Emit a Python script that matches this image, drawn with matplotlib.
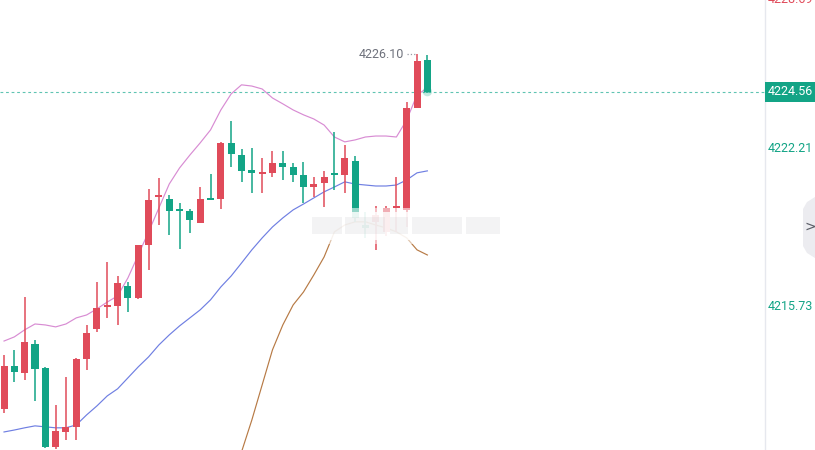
"""Candlestick chart with bands, price scale on the right."""
import matplotlib
matplotlib.use('Agg')
import matplotlib.pyplot as plt
from matplotlib.patches import Polygon, Rectangle
import numpy as np

# OHLC per bar (oldest first)
opens = [4211.55, 4213.31, 4213.02, 4214.21, 4213.23, 4209.99, 4210.60, 4210.81, 4213.60, 4214.83,
         4215.73, 4215.77, 4216.59, 4216.10, 4218.27, 4220.24, 4220.16, 4219.75, 4219.67, 4219.18,
         4220.20, 4220.16, 4222.46, 4221.96, 4221.35, 4221.18, 4221.23, 4221.64, 4221.47, 4221.14,
         4220.65, 4220.82, 4221.23, 4221.14, 4221.72, 4219.09, 4219.22, 4218.81, 4219.79, 4219.71,
         4223.89, 4225.86]
highs = [4213.76, 4213.97, 4216.14, 4214.38, 4213.25, 4211.71, 4212.86, 4213.62, 4214.99, 4216.76,
         4217.58, 4217.00, 4216.76, 4218.29, 4220.57, 4221.02, 4220.32, 4220.00, 4219.75, 4220.65,
         4221.18, 4222.48, 4223.36, 4222.21, 4222.25, 4221.84, 4222.13, 4222.13, 4221.64, 4221.68,
         4221.06, 4221.31, 4222.91, 4222.37, 4221.92, 4219.63, 4219.87, 4219.87, 4221.06, 4224.14,
         4226.10, 4226.07]
lows = [4211.38, 4212.65, 4212.74, 4211.87, 4209.95, 4209.91, 4210.27, 4210.27, 4213.15, 4214.70,
        4215.28, 4214.99, 4215.52, 4216.06, 4217.25, 4219.09, 4218.68, 4218.11, 4218.77, 4219.16,
        4220.10, 4219.75, 4221.47, 4220.86, 4220.41, 4220.41, 4221.06, 4220.94, 4220.86, 4220.00,
        4220.24, 4219.83, 4220.53, 4220.41, 4219.22, 4218.56, 4218.07, 4218.64, 4218.81, 4219.01,
        4223.87, 4224.51]
closes = [4213.31, 4213.06, 4214.29, 4213.19, 4209.99, 4210.64, 4210.81, 4213.60, 4214.66, 4215.69,
          4215.81, 4216.71, 4216.10, 4218.27, 4220.12, 4220.32, 4219.67, 4219.67, 4219.30, 4220.16,
          4220.12, 4222.46, 4222.00, 4221.31, 4221.23, 4221.27, 4221.64, 4221.47, 4221.14, 4220.65,
          4220.77, 4221.06, 4221.14, 4221.84, 4219.38, 4218.97, 4219.50, 4219.79, 4219.87, 4223.89,
          4225.82, 4224.56]

# band lines
upper = [4214.33, 4214.50, 4214.79, 4215.03, 4214.99, 4214.91, 4215.03, 4215.28, 4215.40, 4215.65,
         4215.93, 4216.18, 4216.92, 4217.86, 4218.81, 4219.79, 4220.77, 4221.43, 4221.96, 4222.46,
         4222.99, 4223.81, 4224.47, 4224.84, 4224.79, 4224.67, 4224.30, 4224.06, 4223.81, 4223.61,
         4223.44, 4223.19, 4222.70, 4222.50, 4222.58, 4222.70, 4222.74, 4222.74, 4222.70, 4223.40,
         4224.43, 4224.71]
middle = [4210.60, 4210.68, 4210.77, 4210.85, 4210.81, 4210.77, 4210.77, 4210.89, 4211.30, 4211.67,
          4212.08, 4212.37, 4212.82, 4213.27, 4213.68, 4214.17, 4214.58, 4214.95, 4215.28, 4215.61,
          4216.02, 4216.55, 4217.00, 4217.53, 4218.07, 4218.56, 4219.01, 4219.38, 4219.71, 4219.95,
          4220.20, 4220.45, 4220.65, 4220.86, 4220.77, 4220.73, 4220.69, 4220.69, 4220.73, 4220.94,
          4221.23, 4221.31]
lower = [np.nan] * 22 + [4208.22, 4209.78, 4211.09, 4212.53, 4213.97, 4214.99, 4215.81, 4216.34,
                         4217.04, 4217.78, 4218.81, 4219.09, 4219.22, 4219.22, 4219.09, 4218.97,
                         4218.81, 4218.56, 4218.07, 4217.86]

tick_prices = [4228.69, 4222.21, 4215.73]
last_price = 4224.56
max_high = 4226.10

red = '#e04b5a'
green = '#13a486'
teal_line = '#5fc4b2'
pink = '#d88cd3'
blue = '#6f7fe2'
brown = '#b77a45'
grey_text = '#6f727c'

fig = plt.figure(figsize=(8.15, 4.5), dpi=100)
fig.patch.set_facecolor('white')
ax = fig.add_axes([0, 0, 765 / 815, 1])
ax.set_facecolor('white')

n = len(opens)
x = np.arange(n)
ax.set_xlim(-0.39, 73.7)
ax.set_ylim(4209.86, 4228.32)

# bands
ax.plot(x, upper, color=pink, lw=0.85, zorder=2)
ax.plot(x, middle, color=blue, lw=0.85, zorder=2)
ax.plot(x, lower, color=brown, lw=0.85, zorder=2)

# candles
o = np.array(opens)
c = np.array(closes)
cols = [red if cc >= oo else green for oo, cc in zip(o, c)]
ax.vlines(x, lows, highs, colors=cols, lw=1.1, zorder=3)
body_h = np.maximum(np.abs(c - o), 0.06)
ax.bar(x, body_h, bottom=np.minimum(o, c), width=0.68, color=cols, zorder=4)

# last price line + glow
ax.axhline(last_price, color=teal_line, lw=0.8, ls=(0, (2.5, 2.5)), zorder=1)
ax.scatter([n - 1], [last_price], s=45, color=green, alpha=0.25, zorder=5, edgecolors='none')

# max high marker
ax.plot([n - 3 + 0.05, n - 3 + 0.8], [max_high, max_high], color='#9a9ca5', lw=0.9, ls=':', zorder=3)
ax.text(n - 3 - 0.3, max_high, f'{max_high:.2f}', ha='right', va='center',
        fontsize=9, color=grey_text, family='Roboto')

# axes cosmetics
for side in ['top', 'left', 'bottom']:
    ax.spines[side].set_visible(False)
ax.spines['right'].set_color('#e6e8ee')
ax.spines['right'].set_linewidth(1)
ax.set_xticks([])
ax.set_yticks([])

# right price scale
ytr = ax.get_yaxis_transform()
for i, p in enumerate(tick_prices):
    col = red if p > last_price else green
    off = -6 if i == 0 else 0
    ax.annotate(f'{p:.2f}', xy=(1.004, p), xycoords=ytr, xytext=(0, off),
                textcoords='offset points', ha='left', va='center',
                fontsize=9, color=col, family='Roboto', annotation_clip=False)
ax.text(1.004, last_price, f'{last_price:.2f}', transform=ytr, ha='left', va='center',
        fontsize=9, color='white', family='Roboto', clip_on=False,
        bbox=dict(boxstyle='square,pad=0.28', fc=green, ec='none'))

# overlay in pixel space: blurred watermark and side button
ov = fig.add_axes([0, 0, 1, 1], zorder=10)
ov.set_xlim(0, 815)
ov.set_ylim(450, 0)
ov.axis('off')
ov.patch.set_alpha(0)
# soft edges, then a denser core
ov.add_patch(Rectangle((304, 208), 204, 36, fc='white', ec='none', alpha=0.55))
ov.add_patch(Rectangle((308, 212), 196, 28, fc='white', ec='none', alpha=0.8))
for bx, bw in [(312, 30), (345, 40), (390, 18), (412, 50), (466, 34)]:
    ov.add_patch(Rectangle((bx, 217), bw, 17, fc='#c4c4c8', ec='none', alpha=0.2))
ov.add_patch(Polygon([(815, 197), (807, 202), (803, 209), (803, 246), (807, 253), (815, 258)],
                     closed=True, fc='#ececf0', ec='none'))
ov.text(810, 227, '>', ha='center', va='center', fontsize=10, color='#5a5d66', family='DejaVu Sans')

fig.savefig('out.png', dpi=100, facecolor='white')
